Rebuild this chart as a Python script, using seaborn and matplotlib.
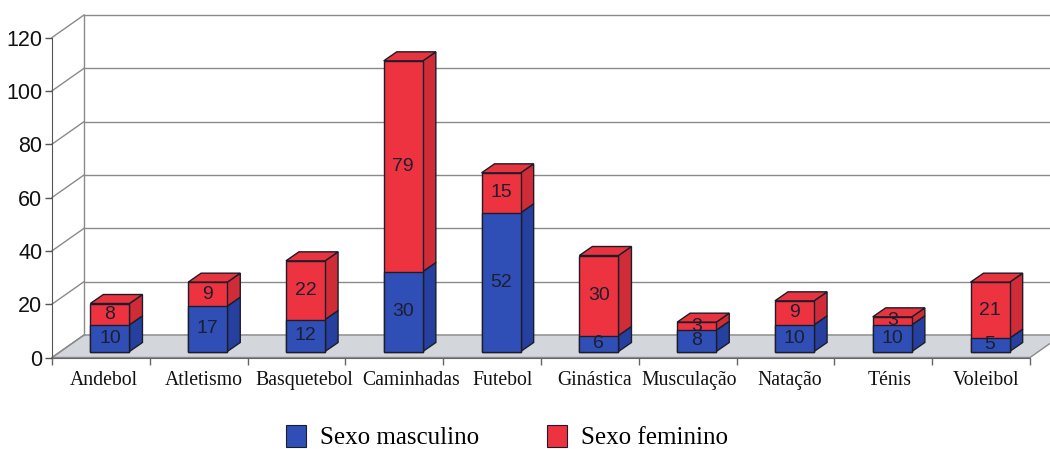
import numpy as np
import matplotlib
matplotlib.use("Agg")
import matplotlib.pyplot as plt
import seaborn as sns
from matplotlib.patches import Polygon, Patch
from matplotlib.transforms import offset_copy, ScaledTranslation

# Praticantes por modalidade e sexo
desportos = ["Andebol", "Atletismo", "Basquetebol", "Caminhadas", "Futebol",
             "Ginástica", "Musculação", "Natação", "Ténis", "Voleibol"]
masculino = [10, 17, 12, 30, 52, 6, 8, 10, 10, 5]
feminino = [8, 9, 22, 79, 15, 30, 3, 9, 3, 21]
y_ticks = [0, 20, 40, 60, 80, 100, 120]
series_names = ["Sexo masculino", "Sexo feminino"]

BLUE, BLUE_SIDE = "#2f4fb6", "#2640a0"
RED, RED_SIDE, RED_TOP = "#ee3340", "#cf2c37", "#e8343f"
EDGE = "#1c1c2a"
GRID = "#8a8a8a"
FLOOR = "#d3d7db"

W, H = 1050, 449
fig = plt.figure(figsize=(W / 100, H / 100), dpi=100)
ax = fig.add_axes([52 / W, (H - 357.5) / H, 978 / W, 320 / H])

total = [m + f for m, f in zip(masculino, feminino)]
bar_kw = dict(width=0.4, saturation=1, edgecolor=EDGE, linewidth=1.0, ax=ax)
sns.barplot(x=desportos, y=total, color=RED, **bar_kw)
sns.barplot(x=desportos, y=masculino, color=BLUE, **bar_kw)

ax.set_xlim(-0.5, 9.5)
ax.set_ylim(0, 120)

# pixel -> data conversions for the oblique depth effect
px_x = (ax.get_xlim()[1] - ax.get_xlim()[0]) / 978
px_y = (ax.get_ylim()[1] - ax.get_ylim()[0]) / 320
Dx, Dy = 32 * px_x, 22.5 * px_y      # full depth of the box
bdx, bdy = 13 * px_x, 9 * px_y       # depth of each bar

# bars sit a little behind the front plane
bar_trans = offset_copy(ax.transData, fig=fig, x=9, y=6, units="dots")
for p in ax.patches:
    p.set_transform(bar_trans)
    p.set_zorder(3)

x0_axis, x1_axis = ax.get_xlim()

# floor
floor = Polygon([(x0_axis, 0), (x1_axis, 0), (x1_axis + Dx, Dy), (x0_axis + Dx, Dy)],
                closed=True, facecolor=FLOOR, edgecolor=GRID, linewidth=1.0,
                clip_on=False, zorder=0.5)
ax.add_patch(floor)

# back wall and left wall gridlines
for t in y_ticks:
    ax.plot([x0_axis, x0_axis + Dx], [t, t + Dy], color=GRID, lw=1.0,
            clip_on=False, zorder=0.6)
    ax.plot([x0_axis + Dx, x1_axis + 2 * Dx], [t + Dy, t + Dy], color=GRID,
            lw=1.0, clip_on=False, zorder=0.4)
ax.plot([x0_axis + Dx, x0_axis + Dx], [Dy, y_ticks[-1] + Dy], color=GRID,
        lw=1.0, clip_on=False, zorder=0.6)

# side and top faces of the stacked bars
for i, (m, t) in enumerate(zip(masculino, total)):
    xl, xr = i - 0.2, i + 0.2
    faces = [
        ([(xr, 0), (xr, m), (xr + bdx, m + bdy), (xr + bdx, bdy)], BLUE_SIDE),
        ([(xr, m), (xr, t), (xr + bdx, t + bdy), (xr + bdx, m + bdy)], RED_SIDE),
        ([(xl, t), (xr, t), (xr + bdx, t + bdy), (xl + bdx, t + bdy)], RED_TOP),
    ]
    for pts, col in faces:
        ax.add_patch(Polygon(pts, closed=True, facecolor=col, edgecolor=EDGE,
                             linewidth=1.0, transform=bar_trans, clip_on=False,
                             zorder=2.9))

# value labels centred on each segment
lab_font = dict(family="Liberation Sans", size=14, color="#1e1e30")
for i, (m, f) in enumerate(zip(masculino, feminino)):
    ax.text(i, m / 2, str(m), ha="center", va="center", transform=bar_trans,
            zorder=5, **lab_font)
    ax.text(i, m + f / 2, str(f), ha="center", va="center", transform=bar_trans,
            zorder=5, **lab_font)

# axes styling
for s in ["top", "right"]:
    ax.spines[s].set_visible(False)
ax.spines["left"].set_color("#555555")
ax.spines["bottom"].set_color("#666666")
ax.spines["left"].set_zorder(1)
ax.spines["bottom"].set_zorder(1)
ax.patch.set_visible(False)

ax.set_yticks(y_ticks)
ax.set_yticklabels([str(v) for v in y_ticks], family="Liberation Sans",
                   fontsize=15.5, color="#111111")
ax.tick_params(axis="y", length=5, width=1, color="#555555", pad=2)

ax.set_xticks(range(len(desportos)))
ax.set_xticklabels(desportos, family="Liberation Serif", fontsize=14.2,
                   color="#111111")
ax.tick_params(axis="x", which="major", length=0, pad=10)
ax.set_xticks(np.arange(-0.5, len(desportos)), minor=True)
ax.tick_params(axis="x", which="minor", length=5, width=1, color="#666666")
ax.set_xlabel("")
ax.set_ylabel("")

# category labels sit slightly right of the front edge, spread to avoid clashes
nudges = [3, 5, 8, 17, 10, 5, 1, 4, 6, 5]
for lab, dx in zip(ax.get_xticklabels(), nudges):
    lab.set_transform(lab.get_transform() +
                      ScaledTranslation(dx / 100, 0, fig.dpi_scale_trans))

handles = [Patch(facecolor=BLUE, edgecolor=EDGE, linewidth=0.8),
           Patch(facecolor=RED, edgecolor=EDGE, linewidth=0.8)]
fig.legend(handles, series_names, loc="center", ncol=2,
           bbox_to_anchor=(507 / W, 12 / H), frameon=False,
           prop=dict(family="Liberation Serif", size=18),
           handlelength=0.8, handleheight=1.0, handletextpad=0.55,
           columnspacing=2.7, borderpad=0)

fig.savefig("out.png", dpi=100)
